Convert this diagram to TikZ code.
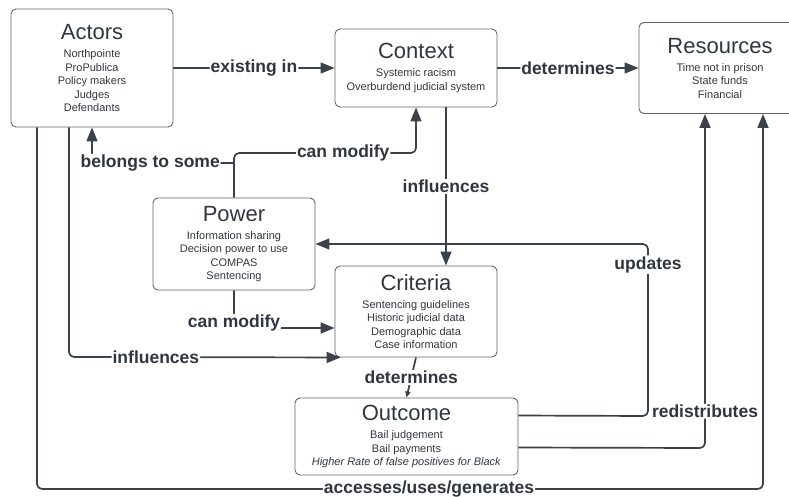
\documentclass[tikz,border=0pt]{standalone}
\usepackage{fontspec}
\setmainfont{Liberation Sans}
\usepackage{xcolor}
\usepackage{tikz}
\usetikzlibrary{arrows.meta,calc,positioning}
\definecolor{lineink}{HTML}{3B424B}
\definecolor{boxink}{HTML}{5E646C}
\definecolor{textink}{HTML}{30363F}
\tikzset{CM style/.style={>={Triangle[length=14pt,width=11pt]},line join=round}}
\newcommand{\boxhead}[1]{{\fontsize{22}{22}\selectfont #1}\\[4.5pt]}

\begin{document}
\begin{tikzpicture}[CM style,x=1pt,y=-1pt]
	\tikzstyle{box}=[draw=boxink, line width=0.9pt, rounded corners=5pt, align=center,
	text=textink, font=\fontsize{11}{13.5}\selectfont, minimum width=162pt, inner sep=0pt]
	\tikzstyle{lbl}=[fill=white, text=textink, font=\fontsize{17.5}{18}\selectfont\bfseries, inner sep=1pt]
	\tikzstyle{link}=[color=lineink, line width=1.7pt, rounded corners=5pt]
	\useasboundingbox (0,0) rectangle (789,496);
	
	\node[box, minimum height=118pt] (actors) at (92,68) {\boxhead{Actors}Northpointe\\ProPublica\\Policy makers\\Judges\\Defendants};
	\node[box, minimum height=78pt] (context) at (416,68) {\boxhead{Context}Systemic racism\\Overburdend judicial system};
	\node[box, minimum height=91pt] (resources) at (720,68) {\boxhead{Resources}Time not in prison\\State funds\\Financial};
	\node[box, minimum height=92pt] (power) at (234,244) {\boxhead{Power}Information sharing\\Decision power to use\\COMPAS\\Sentencing};
	\node[box, minimum height=91pt] (criteria) at (416,311.5) {\boxhead{Criteria}Sentencing guidelines\\Historic judicial data\\Demographic data\\Case information};
	\node[box, minimum height=77pt, minimum width=223pt] (outcome) at (406.5,436.5) {\boxhead{Outcome}Bail judgement\\Bail payments\\\textit{Higher Rate of false positives for Black}};
	
	\path[->, link] 
	(actors) edge node[lbl] {existing in} (context)
	(context) edge node[lbl] {determines} (resources)
	([xshift=30pt]context.south) edge node[lbl] {influences} ([xshift=30pt]criteria.north)
	;
	
	% power upwards
	\draw[->, link] (power.north) -- (234,153) -- node[lbl, pos=0.6] {can modify} (416,153) -- (context.south);
	\draw[->, link] (234,163) -- node[lbl, pos=0.59] {belongs to some} (92,163) -- (actors.south);
	
	% into criteria
	\draw[->, link] (power.south) -- (234,328) node[lbl, yshift=5pt] {can modify} -- ([yshift=-16.5pt]criteria.west);
	\draw[->, link] ([xshift=-23pt]actors.south) -- (69,357) -- node[lbl, pos=0.32] {influences} ([xshift=6pt]criteria.south west);
	
	\path[->, link, >={Triangle[length=6pt,width=5pt]}] 
	(criteria.south) edge node[lbl] {determines} (outcome.north)
	;
	
	% feedback from outcome
	\draw[->, link] ([yshift=21pt]outcome.east) -- (648,416) -- node[lbl, pos=0.88] {updates} (648,244) -- (power.east);
	\draw[->, link] ([yshift=-11pt]outcome.east) -- (705,448) -- node[lbl, pos=0.11] {redistributes} ([xshift=-15pt]resources.south);
	\draw[->, link] ([xshift=-55pt]actors.south) -- (37,489) -- node[lbl, pos=0.54] {accesses/uses/generates} (763,489) -- ([xshift=43pt]resources.south);
\end{tikzpicture}
\end{document}
